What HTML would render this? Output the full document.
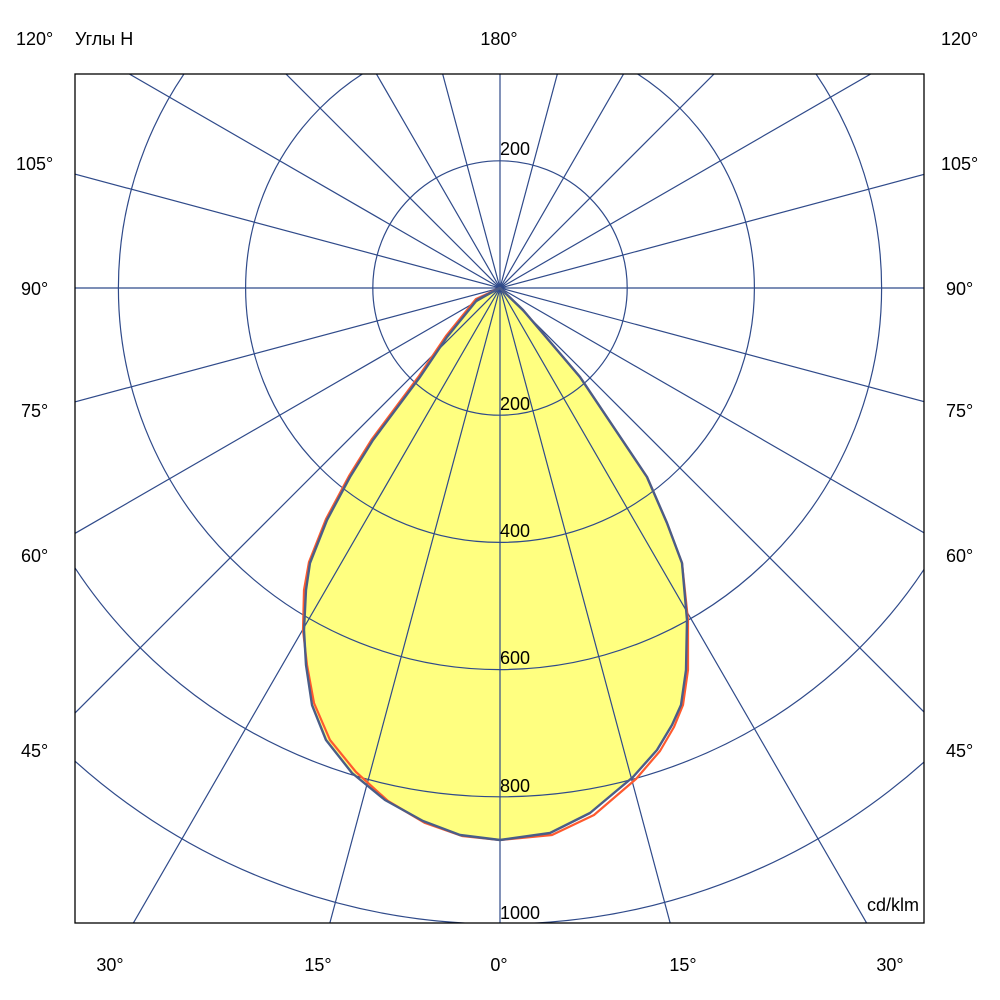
<!DOCTYPE html>
<html><head><meta charset="utf-8"><style>
html,body{margin:0;padding:0;background:#fff;width:1000px;height:1000px;overflow:hidden;}
svg{display:block;}
text{font-family:"Liberation Sans","DejaVu Sans",sans-serif;font-size:18px;fill:#000;}
</style></head><body>
<svg width="1000" height="1000" viewBox="0 0 1000 1000" xmlns="http://www.w3.org/2000/svg">
<defs><clipPath id="c"><rect x="75" y="74" width="849" height="849"/></clipPath></defs>
<rect width="1000" height="1000" fill="#fff"/>
<g clip-path="url(#c)">
<path id="blue" d="M500,288 L477,300 L447,337 L420,377 L373,440 L350,477 L327,520 L310,563 L306,590 L304,630 L306,665 L312,705 L326,740 L352,773 L385,800 L423,821 L460,835 L500,840 L550,833 L590,813 L633,777 L657,750 L672,725 L681,705 L686,670 L687,620 L682,563 L667,523 L647,477 L580,377 L523,310 Z" fill="#ffff80" stroke="none"/>
<g stroke="#2f4a8a" stroke-width="1.2" fill="none">
<circle cx="500" cy="288" r="127.2"/>
<circle cx="500" cy="288" r="254.4"/>
<circle cx="500" cy="288" r="381.6"/>
<circle cx="500" cy="288" r="508.8"/>
<circle cx="500" cy="288" r="636"/>
<line x1="500" y1="-1200" x2="500" y2="1800"/>
<line x1="-800" y1="288" x2="1800" y2="288"/>
<g transform="rotate(15 500 288)"><line x1="500" y1="-1200" x2="500" y2="1800"/></g>
<g transform="rotate(30 500 288)"><line x1="500" y1="-1200" x2="500" y2="1800"/></g>
<g transform="rotate(45 500 288)"><line x1="500" y1="-1200" x2="500" y2="1800"/></g>
<g transform="rotate(60 500 288)"><line x1="500" y1="-1200" x2="500" y2="1800"/></g>
<g transform="rotate(75 500 288)"><line x1="500" y1="-1200" x2="500" y2="1800"/></g>
<g transform="rotate(105 500 288)"><line x1="500" y1="-1200" x2="500" y2="1800"/></g>
<g transform="rotate(120 500 288)"><line x1="500" y1="-1200" x2="500" y2="1800"/></g>
<g transform="rotate(135 500 288)"><line x1="500" y1="-1200" x2="500" y2="1800"/></g>
<g transform="rotate(150 500 288)"><line x1="500" y1="-1200" x2="500" y2="1800"/></g>
<g transform="rotate(165 500 288)"><line x1="500" y1="-1200" x2="500" y2="1800"/></g>
</g>
<path d="M500,288 L476,299 L446,336 L419,376 L372,439 L349,476 L326,519 L309,562 L304,590 L303,630 L307,665 L314,703 L330,740 L356,772 L388,801 L425,823 L462,836 L500,840 L552,835 L594,815 L636,779 L660,751 L674,727 L683,705 L688,670 L688,620 L682,563 L667,523 L647,477 L580,377 L523,310 Z" fill="none" stroke="#ff5a2e" stroke-width="2.2" stroke-linejoin="round"/>
<path d="M500,288 L477,300 L447,337 L420,377 L373,440 L350,477 L327,520 L310,563 L306,590 L304,630 L306,665 L312,705 L326,740 L352,773 L385,800 L423,821 L460,835 L500,840 L550,833 L590,813 L633,777 L657,750 L672,725 L681,705 L686,670 L687,620 L682,563 L667,523 L647,477 L580,377 L523,310 Z" fill="none" stroke="#4a5d88" stroke-width="2.4" stroke-linejoin="round"/>
</g>
<rect x="75" y="74" width="849" height="849" fill="none" stroke="#000" stroke-width="1.3"/>
<text x="16" y="45">120°</text>
<text x="75" y="45">Углы H</text>
<text x="499" y="45" text-anchor="middle">180°</text>
<text x="941" y="45">120°</text>
<text x="16" y="170">105°</text><text x="941" y="170">105°</text>
<text x="21" y="295">90°</text><text x="946" y="295">90°</text>
<text x="21" y="417">75°</text><text x="946" y="417">75°</text>
<text x="21" y="562">60°</text><text x="946" y="562">60°</text>
<text x="21" y="757">45°</text><text x="946" y="757">45°</text>
<text x="110" y="971" text-anchor="middle">30°</text>
<text x="318" y="971" text-anchor="middle">15°</text>
<text x="499" y="971" text-anchor="middle">0°</text>
<text x="683" y="971" text-anchor="middle">15°</text>
<text x="890" y="971" text-anchor="middle">30°</text>
<text x="500" y="155">200</text>
<text x="500" y="410">200</text>
<text x="500" y="537">400</text>
<text x="500" y="664">600</text>
<text x="500" y="792">800</text>
<text x="500" y="919">1000</text>
<text x="919" y="911" text-anchor="end">cd/klm</text>
</svg>
</body></html>
